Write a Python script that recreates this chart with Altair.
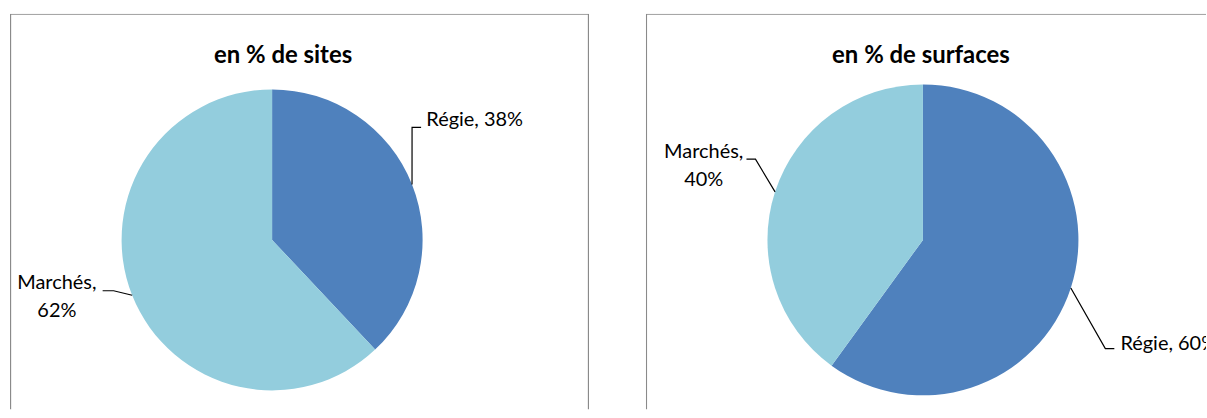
import math
import altair as alt
import pandas as pd

# ---- data ----
categories = ["Régie", "Marchés"]
colors = ["#4F81BD", "#93CDDD"]
sites_pct = [38, 62]
surfaces_pct = [60, 40]
panel_titles = ["en % de sites", "en % de surfaces"]

# ---- layout (style) constants ----
FONT = "Lato"
H = 397
panels_layout = [
    # width, pie centre (px in panel), radius, title x
    dict(W=581, cx=263, cy=227, R=151, tx=274),
    dict(W=562, cx=278, cy=227, R=156, tx=276),
]
# label placement in pie-radius units: elbow, end of leader, text anchor (first line), align, wrap
label_layout = [
    {
        "Régie": dict(elbow=(0.93, 0.748), end=(0.99, 0.748), text=(1.025, 0.795), align="left", wrap=False),
        "Marchés": dict(elbow=(-1.053, -0.338), end=(-1.126, -0.338), text=(-1.43, -0.285), align="center", wrap=True),
    },
    {
        "Régie": dict(elbow=(1.173, -0.699), end=(1.231, -0.699), text=(1.27, -0.667), align="left", wrap=False),
        "Marchés": dict(elbow=(-1.077, 0.519), end=(-1.135, 0.519), text=(-1.41, 0.564), align="center", wrap=True),
    },
]


def make_panel(values, title, lay, labs, last):
    W, cx, cy, R = lay["W"], lay["cx"], lay["cy"], lay["R"]
    xs = alt.Scale(domain=[-cx / R, (W - cx) / R], nice=False, zero=False)
    ys = alt.Scale(domain=[-(H - cy) / R, cy / R], nice=False, zero=False)

    slices = pd.DataFrame({
        "cat": categories,
        "val": values,
        "ord": list(range(len(categories))),
        "px": [0.0] * len(categories),
        "py": [0.0] * len(categories),
    })

    total = sum(values)
    cum = 0.0
    line_rows, text_rows = [], []
    for cat, v in zip(categories, values):
        mid = (cum + v / 2) / total * 2 * math.pi
        cum += v
        ex, ey = math.sin(mid), math.cos(mid)
        L = labs[cat]
        pts = [(ex, ey), L["elbow"], L["end"]]
        for i, (x, y) in enumerate(pts):
            line_rows.append({"lab": cat, "i": i, "x": x, "y": y})
        sep = "\n" if L["wrap"] else " "
        text_rows.append({"lab": f"{cat},{sep}{v}%", "x": L["text"][0], "y": L["text"][1], "align": L["align"]})
    lines = pd.DataFrame(line_rows)
    texts = pd.DataFrame(text_rows)

    pie = alt.Chart(slices).mark_arc(outerRadius=R).encode(
        theta=alt.Theta("val:Q", stack=True),
        order=alt.Order("ord:Q"),
        color=alt.Color("cat:N", scale=alt.Scale(domain=categories, range=colors), legend=None),
        x=alt.X("px:Q", scale=xs, axis=None),
        y=alt.Y("py:Q", scale=ys, axis=None),
    )
    leaders = alt.Chart(lines).mark_line(color="black", strokeWidth=1.2).encode(
        x=alt.X("x:Q", scale=xs, axis=None),
        y=alt.Y("y:Q", scale=ys, axis=None),
        detail="lab:N",
        order="i:Q",
    )
    text_layers = []
    for al in ["left", "center"]:
        text_layers.append(
            alt.Chart(texts[texts["align"] == al]).mark_text(
                align=al, baseline="middle", font=FONT, fontSize=20, color="black",
                lineBreak="\n", lineHeight=28, clip=True,
            ).encode(
                x=alt.X("x:Q", scale=xs, axis=None),
                y=alt.Y("y:Q", scale=ys, axis=None),
                text="lab:N",
            )
        )
    ttl = alt.Chart(pd.DataFrame({"t": [title]})).mark_text(
        font=FONT, fontSize=24, fontWeight="bold", color="black", baseline="middle", align="center"
    ).encode(x=alt.value(lay["tx"]), y=alt.value(43), text="t:N")
    border = alt.Chart(pd.DataFrame({"t": [title]})).mark_rect(
        fill=None, stroke="#8a8a8a", strokeWidth=1.2, clip=True
    ).encode(x=alt.value(0.6), x2=alt.value(W + 20 if last else W - 0.6),
             y=alt.value(0.6), y2=alt.value(H + 20))
    return alt.layer(border, pie, leaders, *text_layers, ttl).properties(width=W, height=H)


left = make_panel(sites_pct, panel_titles[0], panels_layout[0], label_layout[0], False)
right = make_panel(surfaces_pct, panel_titles[1], panels_layout[1], label_layout[1], True)

chart = alt.hconcat(left, right, spacing=55).resolve_scale(color="shared").properties(
    padding={"left": 9, "top": 12, "right": 0, "bottom": 0}
).configure_view(stroke="transparent")

chart.save("out.html", embed_options={"renderer": "svg", "actions": False})
